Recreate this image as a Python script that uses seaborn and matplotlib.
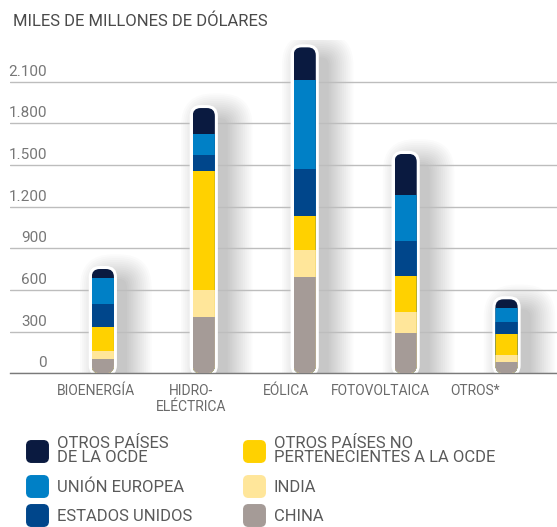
import numpy as np
import pandas as pd
import matplotlib
matplotlib.use("Agg")
import matplotlib.pyplot as plt
import matplotlib.patches as mpatches
import matplotlib.transforms as mtransforms
from matplotlib.lines import Line2D
import seaborn as sns

# ------------------------------------------------------------
# DATA (miles de millones de dólares), stacked bottom -> top
# ------------------------------------------------------------
categories = ["BIOENERGÍA", "HIDRO-\nELÉCTRICA", "EÓLICA", "FOTOVOLTAICA", "OTROS*"]

china = [103, 405, 693, 290, 84]
india = [58, 195, 195, 151, 48]
otros_no_ocde = [172, 856, 245, 260, 151]
eeuu = [166, 115, 338, 252, 86]
union_europea = [187, 151, 641, 331, 103]
otros_ocde = [65, 188, 235, 296, 61]

series_names = ["CHINA", "INDIA", "OTROS PAÍSES NO\nPERTENECIENTES A LA OCDE",
                "ESTADOS UNIDOS", "UNIÓN EUROPEA", "OTROS PAÍSES\nDE LA OCDE"]
series_values = [china, india, otros_no_ocde, eeuu, union_europea, otros_ocde]
series_colors = ["#a59b97", "#ffe69a", "#ffd100", "#00468b", "#0080c6", "#0a1a40"]

y_ticks = [0, 300, 600, 900, 1200, 1500, 1800, 2100]
y_tick_labels = ["0", "300", "600", "900", "1.200", "1.500", "1.800", "2.100"]

# long table with cumulative tops
rows = []
for name, vals in zip(series_names, series_values):
    for cat, v in zip(categories, vals):
        rows.append({"categoria": cat, "serie": name, "valor": v})
df = pd.DataFrame(rows)
df["acumulado"] = df.groupby("categoria", sort=False)["valor"].cumsum()
totals = df.groupby("categoria", sort=False)["valor"].sum().reindex(categories)

# ------------------------------------------------------------
# STYLE
# ------------------------------------------------------------
sns.set_style("white")
plt.rcParams['font.family'] = ['Roboto', 'DejaVu Sans']

W, H = 557, 527
fig = plt.figure(figsize=(W / 100, H / 100), dpi=100, facecolor='white')
ax = fig.add_axes([10 / W, (H - 373.3) / H, 547 / W, (373.3 - 40) / H])

bar_width = 0.22

# draw layers back to front: the top of each stack first
for name, color in reversed(list(zip(series_names, series_colors))):
    sns.barplot(data=df[df["serie"] == name], x="categoria", y="acumulado",
                order=categories, color=color, saturation=1, width=bar_width,
                errorbar=None, linewidth=0, edgecolor='none', ax=ax)
bars = list(ax.patches)

ax.set_xlim(-0.92, 4.5)
ax.set_ylim(0, 2400)

# pixel <-> data scale for rounded corners
p0 = ax.transData.transform((0, 0))
p1 = ax.transData.transform((1, 1))
px_x = p1[0] - p0[0]
px_y = p1[1] - p0[1]
aspect = px_x / px_y
radius = 8 / px_x

clips = []
for i, cat in enumerate(categories):
    total = totals[cat]
    x0 = i - bar_width / 2
    # soft shadow, thrown to the right
    for k in range(14):
        pad = (k * 1.9) / px_x
        sh = mpatches.FancyBboxPatch(
            (x0 + 13 / px_x, -10 / px_y), bar_width, total,
            boxstyle=f"round,pad={pad},rounding_size={radius + pad}",
            mutation_aspect=aspect, facecolor='black', edgecolor='none',
            alpha=0.016, zorder=0.2, transform=ax.transData)
        ax.add_patch(sh)
    # white outline
    pad = 3 / px_x
    ax.add_patch(mpatches.FancyBboxPatch(
        (x0, 0), bar_width, total,
        boxstyle=f"round,pad={pad},rounding_size={radius + pad}",
        mutation_aspect=aspect, facecolor='white', edgecolor='none',
        zorder=2, transform=ax.transData))
    clip = mpatches.FancyBboxPatch(
        (x0, 0), bar_width, total,
        boxstyle=f"round,pad=0,rounding_size={radius}",
        mutation_aspect=aspect, transform=ax.transData)
    clips.append(clip)

for b in bars:
    cx = b.get_x() + b.get_width() / 2
    idx = int(round(cx))
    b.set_clip_path(clips[idx])
    b.set_zorder(3)

# grid + spines
ax.set_yticks(y_ticks)
ax.yaxis.grid(True, color='#bdbdbd', linewidth=1)
ax.xaxis.grid(False)
ax.set_axisbelow(True)
ax.tick_params(axis='y', length=0, labelleft=False)
for s in ['top', 'right', 'left']:
    ax.spines[s].set_visible(False)
ax.spines['bottom'].set_color('#7a7a7a')
ax.spines['bottom'].set_linewidth(1)

# y labels sitting on top of grid lines
trans = mtransforms.blended_transform_factory(ax.transAxes, ax.transData)
trans = mtransforms.offset_copy(trans, fig=fig, y=3, units='dots')
for v, lab in zip(y_ticks, y_tick_labels):
    ax.text(37 / 547, v, lab, transform=trans, ha='right', va='bottom',
            fontsize=11, color='#777777')

# x axis: tick marks between categories, labels in between
step = 0.9386
bounds = -0.535 + step * np.arange(len(categories) + 1)
label_pos = (bounds[:-1] + bounds[1:]) / 2
ax.set_xticks(bounds)
ax.set_xticklabels([""] * len(bounds))
ax.set_xticks(label_pos, minor=True)
ax.set_xticklabels(categories, minor=True, fontsize=10, color='#6a6a6a',
                   linespacing=1.1)
ax.tick_params(axis='x', which='major', length=6, width=1, color='#7a7a7a',
               direction='out')
ax.tick_params(axis='x', which='minor', length=0, pad=8)
ax.set_xlabel("")
ax.set_ylabel("")

# title
fig.text(13 / W, 1 - 21 / H, "MILES DE MILLONES DE DÓLARES", ha='left',
         va='center', fontsize=12, color='#4a4a4a')

# legend with rounded swatches
swatch = mpatches.BoxStyle("Round", pad=0, rounding_size=0.22)(-0.5, -0.5, 1, 1, 1.0)
order = [5, 4, 3, 2, 1, 0]
handles = [Line2D([], [], marker=swatch, markersize=15.5, linestyle='none',
                  color=series_colors[i]) for i in order]
labels = [series_names[i] for i in order]
leg = fig.legend(handles, labels, loc='upper left',
                 bbox_to_anchor=(27 / W, 1 - 436 / H), ncol=2, frameon=False,
                 fontsize=12, handlelength=1.2, handletextpad=0.6,
                 columnspacing=3.1, labelspacing=0.85, borderpad=0,
                 borderaxespad=0, labelcolor='#5a5a5a')
for t in leg.get_texts():
    t.set_linespacing(0.95)

fig.savefig("out.png", dpi=100, facecolor='white')
